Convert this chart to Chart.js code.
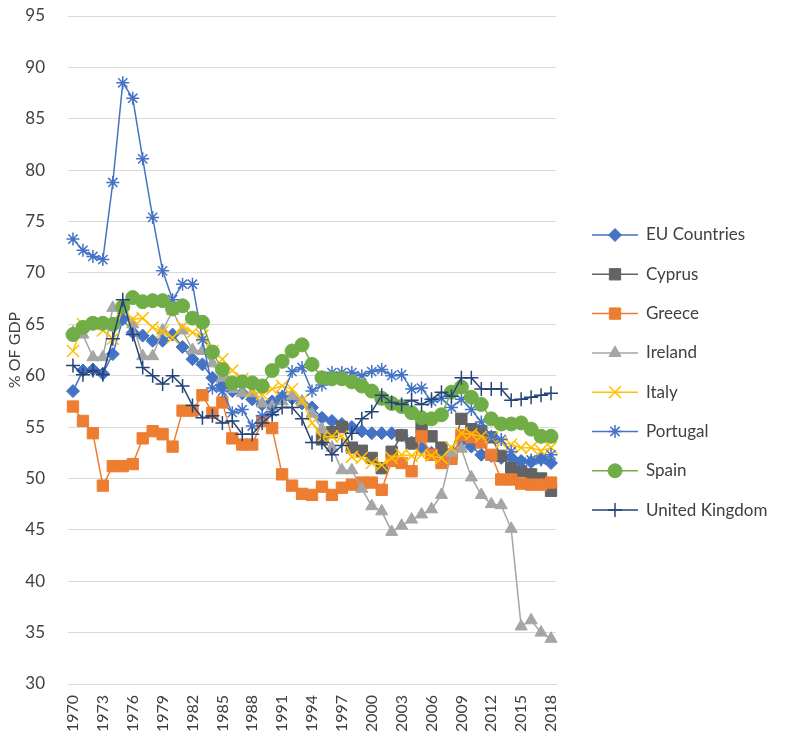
<!DOCTYPE html>
<html>
<head>
<meta charset="utf-8">
<script src="https://cdn.jsdelivr.net/npm/chart.js@4"></script>
<style>
  html, body { margin: 0; padding: 0; background: #fff; }
  canvas { display: block; }
</style>
</head>
<body>
<canvas id="chart" width="785" height="736"></canvas>
<script>
// years on the x axis
const years = [];
for (let y = 1970; y <= 2018; y++) years.push(String(y));

const euCountries = [58.5, 60.5, 60.6, 60.2, 62.1, 65.5, 64.2, 63.9, 63.4, 63.4,
  64.0, 62.8, 61.6, 61.1, 59.8, 59.0, 58.5, 58.3, 57.7, 57.2,
  57.5, 57.9, 57.8, 57.3, 56.9, 55.9, 55.6, 55.3, 55.0, 54.6,
  54.4, 54.4, 54.4, 54.2, 53.5, 53.0, 52.5, 52.2, 52.5, 53.6,
  53.1, 52.3, 52.2, 52.0, 52.0, 51.7, 51.6, 51.9, 51.5];

const cyprus = [null, null, null, null, null, null, null, null, null, null,
  null, null, null, null, null, null, null, null, null, null,
  null, null, null, null, null, 53.8, 54.5, 55.0, 53.0, 52.7,
  52.0, 51.0, 52.6, 54.2, 53.4, 55.0, 54.1, 53.0, 52.3, 55.8,
  54.8, 54.6, 54.0, 52.2, 51.0, 50.7, 50.4, 50.0, 48.8];

const greece = [57.0, 55.6, 54.4, 49.3, 51.2, 51.2, 51.4, 53.9, 54.6, 54.3,
  53.1, 56.6, 56.6, 58.1, 56.4, 57.4, 53.9, 53.3, 53.3, 55.6,
  54.9, 50.4, 49.3, 48.5, 48.4, 49.2, 48.4, 49.1, 49.4, 49.6,
  49.6, 48.9, 51.7, 51.5, 50.7, 54.1, 52.3, 51.5, 51.9, 54.2,
  54.0, 53.5, 52.3, 49.9, 49.9, 49.5, 49.4, 49.4, 49.6];

const ireland = [64.2, 64.0, 61.8, 61.8, 66.6, 66.7, 65.0, 61.9, 61.9, 64.4,
  66.3, 64.4, 62.5, 62.4, 61.2, 59.8, 58.7, 58.3, 58.3, 57.3,
  57.0, 57.5, 58.0, 57.5, 56.3, 54.8, 53.0, 50.8, 50.8, 49.0,
  47.3, 46.8, 44.8, 45.4, 46.0, 46.5, 47.0, 48.4, 52.5, 52.9,
  50.1, 48.4, 47.5, 47.4, 45.1, 35.6, 36.2, 35.0, 34.4];

const italy = [62.4, 65.0, 65.0, 64.4, 63.6, 66.6, 65.5, 65.6, 64.7, 64.3,
  63.7, 64.8, 64.2, 63.9, 62.4, 61.6, 60.5, 59.7, 58.5, 58.2,
  58.7, 59.0, 58.7, 57.6, 55.4, 54.0, 54.1, 54.1, 52.1, 52.0,
  51.5, 51.3, 52.0, 52.3, 52.2, 52.3, 52.2, 52.0, 53.0, 54.4,
  54.3, 54.1, 54.0, 53.5, 53.3, 53.0, 53.0, 52.7, 53.0];

const portugal = [73.3, 72.2, 71.6, 71.3, 78.8, 88.5, 87.0, 81.1, 75.4, 70.2,
  67.4, 68.9, 68.9, 63.5, 58.8, 58.5, 56.4, 56.7, 55.1, 56.1,
  56.5, 58.0, 60.4, 60.8, 58.5, 59.1, 60.3, 60.3, 60.3, 60.0,
  60.4, 60.6, 60.0, 60.1, 58.7, 58.8, 57.5, 57.8, 56.9, 57.7,
  56.7, 55.5, 54.1, 53.8, 52.6, 51.6, 51.8, 51.8, 52.3];

const spain = [64.0, 64.7, 65.1, 65.1, 65.0, 66.7, 67.6, 67.2, 67.3, 67.3,
  66.5, 66.8, 65.6, 65.2, 62.3, 60.6, 59.3, 59.4, 59.3, 59.0,
  60.5, 61.4, 62.4, 63.0, 61.1, 59.8, 59.7, 59.7, 59.4, 59.0,
  58.5, 57.8, 57.3, 57.0, 56.4, 55.9, 55.8, 56.2, 58.4, 58.9,
  57.9, 57.2, 55.8, 55.3, 55.3, 55.4, 54.8, 54.1, 54.1];

const unitedKingdom = [61.0, 60.1, 60.5, 60.1, 63.6, 67.4, 64.0, 60.8, 60.0, 59.2,
  60.0, 59.0, 57.1, 55.9, 56.1, 55.4, 55.6, 54.3, 54.3, 55.4,
  56.2, 56.9, 56.9, 55.8, 53.5, 53.5, 52.3, 53.2, 54.4, 55.8,
  56.5, 58.1, 57.4, 57.2, 57.6, 57.2, 57.7, 58.4, 58.0, 59.8,
  59.8, 58.7, 58.7, 58.7, 57.6, 57.7, 57.9, 58.1, 58.3];

const FONT = 'Lato, "Liberation Sans", sans-serif';
const TEXT = '#404040';

function series(label, data, color, style, radius, cross) {
  return {
    label: label,
    data: data,
    borderColor: color,
    backgroundColor: color,
    borderWidth: 1.5,
    pointStyle: style,
    pointRadius: radius,
    pointHoverRadius: radius,
    pointBackgroundColor: color,
    pointBorderColor: color,
    pointBorderWidth: cross ? 1.5 : 1,
    tension: 0,
    spanGaps: false
  };
}

const datasets = [
  series('EU Countries', euCountries, '#4472C4', 'rectRot', 6.5),
  series('Cyprus', cyprus, '#636363', 'rect', 8),
  series('Greece', greece, '#ED7D31', 'rect', 8),
  series('Ireland', ireland, '#A5A5A5', 'triangle', 7),
  series('Italy', italy, '#FFC000', 'crossRot', 8.5, true),
  series('Portugal', portugal, '#4472C4', 'star', 6.5, true),
  series('Spain', spain, '#70AD47', 'circle', 7),
  series('United Kingdom', unitedKingdom, '#264478', 'cross', 7, true)
];
// last series on top, like the original
datasets.forEach((d, i) => { d.order = datasets.length - i; });

// legend drawn by hand: line with a marker in the middle
const sideLegend = {
  id: 'sideLegend',
  afterDraw(chart) {
    const ctx = chart.ctx;
    ctx.save();
    datasets.forEach((d, i) => {
      const y = 235 + i * 39.3;
      ctx.strokeStyle = d.borderColor;
      ctx.lineWidth = 1.5;
      ctx.beginPath();
      ctx.moveTo(592, y);
      ctx.lineTo(638, y);
      ctx.stroke();
      ctx.fillStyle = d.pointBackgroundColor;
      ctx.strokeStyle = d.pointBorderColor;
      ctx.lineWidth = d.pointBorderWidth;
      Chart.helpers.drawPoint(ctx, {
        pointStyle: d.pointStyle,
        radius: d.pointRadius,
        rotation: 0,
        borderWidth: d.pointBorderWidth
      }, 615, y);
      ctx.fillStyle = TEXT;
      ctx.font = '17px ' + FONT;
      ctx.textBaseline = 'middle';
      ctx.textAlign = 'left';
      ctx.fillText(d.label, 646, y);
    });
    ctx.restore();
  }
};

function noPad(scale) {
  scale.paddingTop = 0;
  scale.paddingBottom = 0;
  scale.paddingLeft = 0;
  scale.paddingRight = 0;
}

new Chart(document.getElementById('chart'), {
  type: 'line',
  data: { labels: years, datasets: datasets },
  options: {
    responsive: false,
    animation: false,
    devicePixelRatio: 1,
    layout: { padding: { top: 16, right: 229, left: 0, bottom: 0 } },
    plugins: {
      legend: { display: false },
      tooltip: { enabled: false }
    },
    scales: {
      x: {
        offset: true,
        grid: { display: false },
        border: { display: true, color: '#D9D9D9', width: 1 },
        ticks: {
          autoSkip: false,
          minRotation: 90,
          maxRotation: 90,
          padding: 3,
          color: TEXT,
          font: { family: FONT, size: 16 },
          callback: function (v, i) { return i % 3 === 0 ? years[i] : ''; }
        },
        afterFit(scale) { scale.height = 52; noPad(scale); }
      },
      y: {
        min: 30,
        max: 95,
        border: { display: false },
        grid: { color: '#D9D9D9', lineWidth: 1, drawTicks: false },
        ticks: {
          stepSize: 5,
          padding: 23,
          color: TEXT,
          font: { family: FONT, size: 17 }
        },
        title: {
          display: true,
          text: '% OF GDP',
          color: TEXT,
          font: { family: FONT, size: 16 },
          padding: { top: 5, bottom: 0 }
        },
        afterFit(scale) { scale.width = 68; noPad(scale); }
      }
    }
  },
  plugins: [sideLegend]
});
</script>
</body>
</html>
